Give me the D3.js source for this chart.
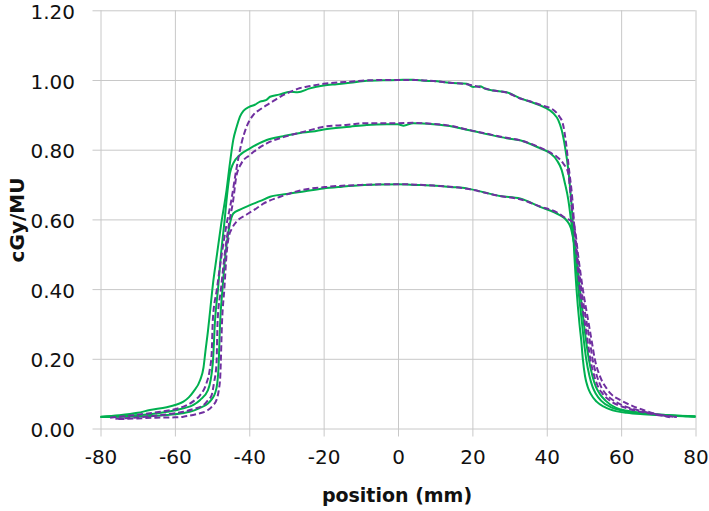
<!DOCTYPE html>
<html>
<head>
<meta charset="utf-8">
<script src="https://cdn.jsdelivr.net/npm/d3@7"></script>
<style>
  body { margin: 0; background: #fff; }
  text { font-family: "DejaVu Sans", sans-serif; fill: #111; }
</style>
</head>
<body>
<script>
//============ dose profiles =========//
var xTicks = [-80, -60, -40, -20, 0, 20, 40, 60, 80],
  yTicks = [0, 0.2, 0.4, 0.6, 0.8, 1.0, 1.2];

// measured (green solid) and calculated (purple dashed), [position mm, cGy/MU]
var measTop = [[-80,0.034],[-75,0.038],[-70,0.045],[-66.7,0.053],[-62.2,0.061],[-59.5,0.069],[-57.7,0.077],[-56.2,0.09],[-55,0.106],[-53.2,0.139],[-52.3,0.175],[-51.8,0.22],[-51.1,0.28],[-50.5,0.34],[-49.7,0.42],[-48.8,0.49],[-47.5,0.59],[-46.1,0.684],[-45.2,0.761],[-44.3,0.828],[-43.4,0.865],[-42.5,0.895],[-41.5,0.912],[-40,0.923],[-38.5,0.929],[-37.1,0.938],[-35.5,0.942],[-34.4,0.952],[-32,0.958],[-29,0.966],[-27,0.965],[-23.7,0.976],[-20,0.984],[-16.5,0.988],[-12.9,0.992],[-8.4,0.998],[-4,0.999],[0,1.0],[4.1,1.001],[7,0.998],[9.5,0.997],[14,0.992],[18.5,0.989],[20.2,0.98],[22,0.982],[23.5,0.975],[25.6,0.97],[29.2,0.965],[32.8,0.948],[36,0.936],[39.1,0.923],[41.8,0.904],[43.1,0.885],[44,0.857],[44.9,0.809],[45.8,0.742],[46.4,0.675],[46.9,0.608],[47.4,0.5],[48,0.4],[48.8,0.3],[49.3,0.25],[49.7,0.2],[50.3,0.15],[51,0.12],[51.8,0.1],[53.4,0.077],[55.5,0.062],[57,0.055],[61.5,0.045],[66,0.041],[70,0.039],[75,0.036],[80,0.034]];

var calcTop = [[-77.4,0.031],[-72,0.037],[-66.7,0.044],[-62.2,0.051],[-59,0.058],[-56.8,0.067],[-54.8,0.08],[-53.2,0.096],[-51.5,0.13],[-50.6,0.17],[-50.1,0.216],[-49.8,0.311],[-48.7,0.4],[-47.4,0.5],[-46.2,0.58],[-44.8,0.656],[-43.5,0.742],[-42.1,0.818],[-40.7,0.866],[-38.9,0.9],[-37,0.916],[-35.3,0.928],[-33,0.943],[-30.8,0.957],[-28.5,0.968],[-26.3,0.977],[-24,0.982],[-21.9,0.986],[-20,0.989],[-16,0.993],[-12.9,0.995],[-8,0.999],[-4,1.0],[0,1.0],[4,1.0],[9.5,0.997],[14,0.992],[18.5,0.988],[21,0.982],[25.6,0.97],[29.2,0.964],[32.8,0.947],[36,0.937],[39,0.926],[41.8,0.914],[43.4,0.895],[44.3,0.876],[45.2,0.818],[45.9,0.751],[46.9,0.656],[47.6,0.55],[48,0.5],[48.9,0.4],[50.3,0.3],[51,0.25],[51.7,0.2],[52.8,0.15],[53.8,0.12],[55,0.1],[57,0.08],[61,0.06],[64.5,0.05],[69,0.04],[75,0.033]];

var measMid = [[-80,0.033],[-72,0.037],[-66.7,0.041],[-62,0.048],[-57.7,0.058],[-55,0.068],[-53.2,0.082],[-51.1,0.11],[-49.8,0.187],[-49.2,0.311],[-48.4,0.4],[-47.6,0.5],[-46.6,0.6],[-46.1,0.656],[-45.2,0.732],[-44.3,0.761],[-42.5,0.785],[-39.8,0.804],[-35.3,0.828],[-30.8,0.839],[-26.3,0.848],[-23,0.852],[-20,0.858],[-12.9,0.866],[-8.4,0.871],[-3,0.873],[0,0.873],[1.5,0.869],[4.1,0.876],[9.5,0.873],[14.9,0.866],[18.5,0.857],[23.8,0.845],[29.2,0.833],[32.8,0.827],[38.2,0.804],[40.9,0.79],[42.7,0.77],[44,0.742],[44.9,0.703],[45.8,0.656],[46.4,0.608],[47.1,0.55],[47.7,0.5],[48.5,0.4],[49.5,0.3],[50,0.25],[50.6,0.2],[51.5,0.15],[52.3,0.12],[53.2,0.1],[54.6,0.08],[57.5,0.06],[61,0.05],[67,0.042],[74,0.037],[80,0.035]];

var calcMid = [[-76,0.028],[-71,0.031],[-66.7,0.035],[-62,0.041],[-57.7,0.048],[-55,0.056],[-52.3,0.067],[-51.2,0.08],[-50.1,0.096],[-49.5,0.13],[-48.8,0.187],[-48.5,0.311],[-47.6,0.4],[-46.6,0.5],[-45.4,0.59],[-44.3,0.656],[-43.5,0.722],[-42.1,0.761],[-39.8,0.785],[-35.3,0.818],[-30.8,0.836],[-26.3,0.849],[-21.9,0.861],[-20,0.866],[-14,0.871],[-8.4,0.876],[0,0.876],[4,0.877],[9.5,0.874],[14.9,0.867],[18.5,0.858],[23.8,0.846],[29.2,0.834],[32.8,0.827],[38.2,0.806],[40.9,0.792],[42.7,0.78],[44.4,0.761],[45.8,0.732],[46.2,0.694],[46.6,0.647],[47.2,0.6],[48.2,0.5],[49.3,0.4],[50.8,0.3],[51.6,0.25],[52.3,0.2],[53.5,0.15],[54.6,0.12],[55.8,0.1],[58,0.08],[62,0.06],[65.5,0.05],[70,0.04],[74,0.034]];

var measLow = [[-80,0.033],[-74,0.034],[-66.7,0.036],[-62,0.039],[-58,0.044],[-56,0.048],[-53.5,0.058],[-51.1,0.072],[-50,0.085],[-49.2,0.101],[-48.6,0.13],[-48.3,0.168],[-47.8,0.311],[-47.2,0.4],[-46.4,0.5],[-45.5,0.57],[-44.8,0.605],[-44.3,0.617],[-42.5,0.628],[-39.8,0.641],[-37,0.653],[-34.4,0.665],[-30,0.673],[-25,0.681],[-20.1,0.689],[-15,0.694],[-10,0.698],[-4.8,0.7],[0,0.701],[5,0.699],[9.5,0.697],[14,0.693],[18.5,0.689],[23,0.678],[27.4,0.667],[32.8,0.66],[38.2,0.636],[43.5,0.612],[45.5,0.595],[46.5,0.575],[47.2,0.54],[47.9,0.5],[48.9,0.4],[50,0.3],[50.6,0.25],[51.3,0.2],[52.3,0.15],[53.2,0.12],[54.2,0.1],[55.8,0.08],[58.5,0.06],[62,0.05],[70,0.04],[78,0.035],[80,0.034]];

var calcLow = [[-75.2,0.027],[-70,0.029],[-65,0.031],[-60,0.032],[-57.7,0.034],[-54,0.042],[-51.1,0.053],[-49.8,0.066],[-48.8,0.082],[-48.2,0.11],[-47.8,0.149],[-47.3,0.311],[-46.7,0.4],[-46.1,0.5],[-45.6,0.545],[-44.6,0.575],[-43.3,0.595],[-40.7,0.614],[-38,0.632],[-36.2,0.645],[-31.7,0.665],[-26.3,0.683],[-18.3,0.694],[-10,0.699],[0,0.701],[9.5,0.697],[18.5,0.688],[27.4,0.667],[32.8,0.658],[38.2,0.637],[42.7,0.62],[45.2,0.603],[47,0.592],[47.6,0.57],[48.4,0.5],[49.7,0.4],[51.3,0.3],[52.1,0.25],[52.9,0.2],[54.3,0.15],[56.1,0.115],[57.2,0.1],[59.7,0.082],[63,0.065],[66,0.053],[70,0.04],[73.1,0.032]];

var measColor = '#00b050',
  calcColor = '#7030a0',
  gridColor = '#c8c8c8';

var width = 709, height = 511, tick = 8;

var x = d3.scaleLinear().domain([-80, 80]).range([100.5, 695.5]);
var y = d3.scaleLinear().domain([0, 1.2]).range([428.5, 10.3]);

var svg = d3.select('body').append('svg')
  .attr('width', width)
  .attr('height', height);

// grid + ticks
var gx = svg.append('g')
  .attr('transform', 'translate(0,' + (y(0) + tick) + ')')
  .call(d3.axisBottom(x).tickValues(xTicks)
    .tickSize(-(y(0) - y(1.2) + tick))
    .tickFormat(function(d) { return String(d); }));
gx.select('.domain').remove();
gx.selectAll('line').attr('stroke', gridColor);
gx.selectAll('text')
  .attr('y', 27).attr('dy', null)
  .style('font-size', '20px').style('fill', '#111');

var gy = svg.append('g')
  .attr('transform', 'translate(' + (x(-80) - tick) + ',0)')
  .call(d3.axisLeft(y).tickValues(yTicks)
    .tickSize(-(x(80) - x(-80) + tick))
    .tickFormat(d3.format('.2f')));
gy.select('.domain').remove();
gy.selectAll('line').attr('stroke', gridColor);
gy.selectAll('text')
  .attr('x', -(x(-80) - tick - 75)).attr('dy', '0.4em')
  .style('font-size', '20px').style('fill', '#111');

// curves
var line = d3.line()
  .x(function(d) { return x(d[0]); })
  .y(function(d) { return y(d[1]); })
  .curve(d3.curveMonotoneX);

[measTop, measMid, measLow].forEach(function(s) {
  svg.append('path').datum(s)
    .attr('d', line)
    .attr('fill', 'none')
    .attr('stroke', measColor)
    .attr('stroke-width', 2);
});

[calcTop, calcMid, calcLow].forEach(function(s) {
  svg.append('path').datum(s)
    .attr('d', line)
    .attr('fill', 'none')
    .attr('stroke', calcColor)
    .attr('stroke-width', 2)
    .attr('stroke-dasharray', '6,3');
});

// axis titles
svg.append('text')
  .attr('x', 397).attr('y', 502)
  .attr('text-anchor', 'middle')
  .style('font-size', '19px').style('font-weight', 'bold')
  .text('position (mm)');

svg.append('text')
  .attr('transform', 'translate(24,220) rotate(-90)')
  .attr('text-anchor', 'middle')
  .style('font-size', '20px').style('font-weight', 'bold')
  .text('cGy/MU');
</script>
</body>
</html>
